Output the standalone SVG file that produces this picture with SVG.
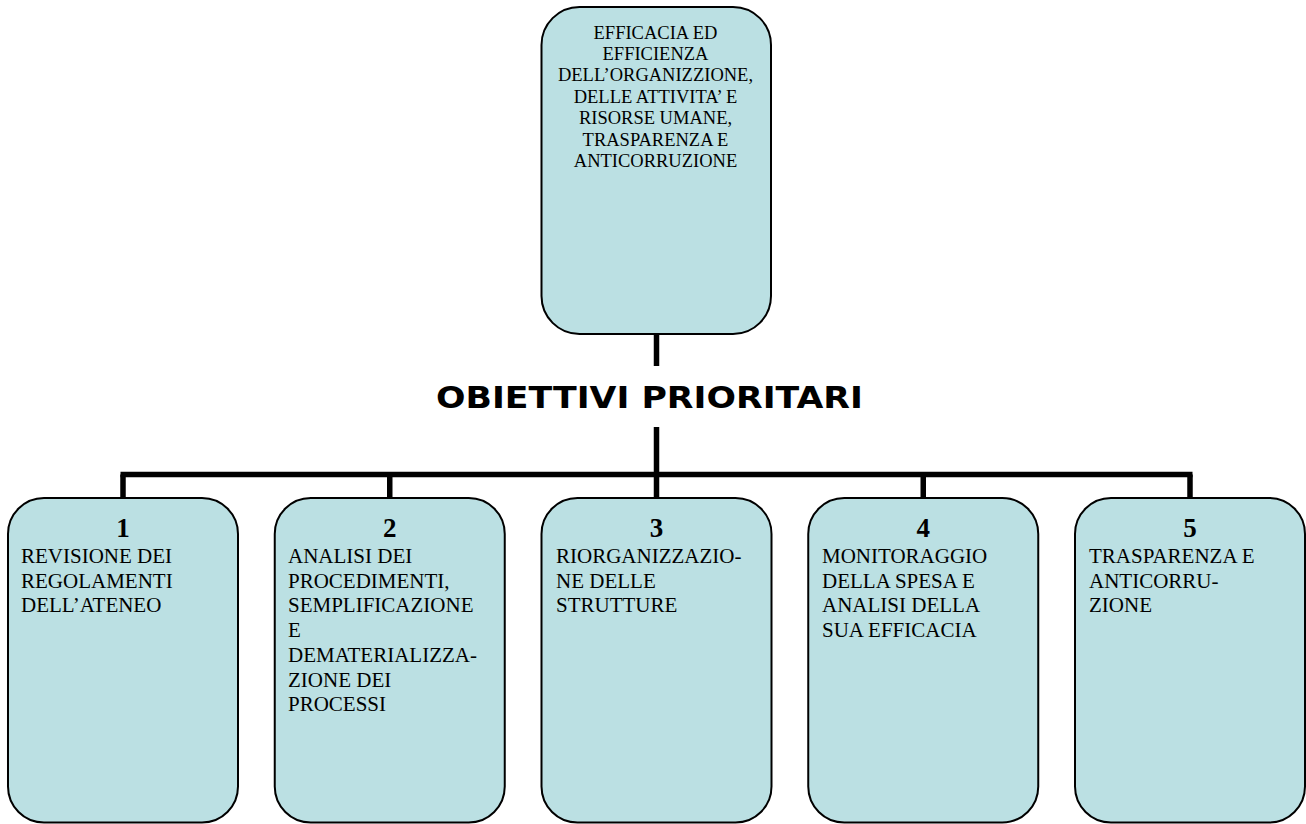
<svg xmlns="http://www.w3.org/2000/svg" width="1306" height="824" viewBox="0 0 1306 824">
<style>
.box{fill:#BBE0E3;stroke:#000;stroke-width:2}
.conn{stroke:#000;stroke-width:5.5;fill:none}
.top{font-family:"Liberation Serif","Times New Roman",serif;font-size:18.5px;fill:#000;text-anchor:middle}
.num{font-family:"Liberation Serif","Times New Roman",serif;font-size:27px;font-weight:bold;fill:#000;text-anchor:middle}
.body{font-family:"Liberation Serif","Times New Roman",serif;font-size:21px;fill:#000}
.title{font-family:"DejaVu Sans","Verdana",sans-serif;font-size:31px;font-weight:bold;fill:#000}
</style>
<rect width="1306" height="824" fill="#fff"/>
<g id="connectors">
<line class="conn" x1="656.5" y1="334" x2="656.5" y2="366"/>
<line class="conn" x1="656.5" y1="427" x2="656.5" y2="474.5"/>
<line class="conn" x1="120.5" y1="474.5" x2="1192.5" y2="474.5"/>
<line class="conn" x1="123" y1="474.5" x2="123" y2="498"/>
<line class="conn" x1="389.75" y1="474.5" x2="389.75" y2="498"/>
<line class="conn" x1="656.5" y1="474.5" x2="656.5" y2="498"/>
<line class="conn" x1="923.25" y1="474.5" x2="923.25" y2="498"/>
<line class="conn" x1="1190" y1="474.5" x2="1190" y2="498"/>
</g>
<g id="top-node">
<rect class="box" x="541.5" y="7" width="229.5" height="327" rx="38" ry="38"/>
<text class="top" x="655.5" y="38.5">EFFICACIA ED</text>
<text class="top" x="655.5" y="59.9">EFFICIENZA</text>
<text class="top" x="655.5" y="81.3">DELL’ORGANIZZIONE,</text>
<text class="top" x="655.5" y="102.7">DELLE ATTIVITA’ E</text>
<text class="top" x="655.5" y="124.1">RISORSE UMANE,</text>
<text class="top" x="655.5" y="145.5">TRASPARENZA E</text>
<text class="top" x="655.5" y="166.9">ANTICORRUZIONE</text>
</g>
<g id="title">
<text class="title" x="436" y="408" textLength="427" lengthAdjust="spacingAndGlyphs">OBIETTIVI PRIORITARI</text>
</g>
<g id="node1">
<rect class="box" x="8" y="498" width="230" height="324.5" rx="36" ry="36"/>
<text class="num" x="123" y="537">1</text>
<text class="body" x="21" y="563">REVISIONE DEI</text>
<text class="body" x="21" y="587.7">REGOLAMENTI</text>
<text class="body" x="21" y="612.4">DELL’ATENEO</text>
</g>
<g id="node2">
<rect class="box" x="274.75" y="498" width="230" height="324.5" rx="36" ry="36"/>
<text class="num" x="389.75" y="537">2</text>
<text class="body" x="288" y="563">ANALISI DEI</text>
<text class="body" x="288" y="587.7">PROCEDIMENTI,</text>
<text class="body" x="288" y="612.4">SEMPLIFICAZIONE</text>
<text class="body" x="288" y="637.1">E</text>
<text class="body" x="288" y="661.8">DEMATERIALIZZA-</text>
<text class="body" x="288" y="686.5">ZIONE DEI</text>
<text class="body" x="288" y="711.2">PROCESSI</text>
</g>
<g id="node3">
<rect class="box" x="541.5" y="498" width="230" height="324.5" rx="36" ry="36"/>
<text class="num" x="656.5" y="537">3</text>
<text class="body" x="556" y="563">RIORGANIZZAZIO-</text>
<text class="body" x="556" y="587.7">NE DELLE</text>
<text class="body" x="556" y="612.4">STRUTTURE</text>
</g>
<g id="node4">
<rect class="box" x="808.25" y="498" width="230" height="324.5" rx="36" ry="36"/>
<text class="num" x="923.25" y="537">4</text>
<text class="body" x="822" y="563">MONITORAGGIO</text>
<text class="body" x="822" y="587.7">DELLA SPESA E</text>
<text class="body" x="822" y="612.4">ANALISI DELLA</text>
<text class="body" x="822" y="637.1">SUA EFFICACIA</text>
</g>
<g id="node5">
<rect class="box" x="1075" y="498" width="230" height="324.5" rx="36" ry="36"/>
<text class="num" x="1190" y="537">5</text>
<text class="body" x="1089" y="563">TRASPARENZA E</text>
<text class="body" x="1089" y="587.7">ANTICORRU-</text>
<text class="body" x="1089" y="612.4">ZIONE</text>
</g>
</svg>
